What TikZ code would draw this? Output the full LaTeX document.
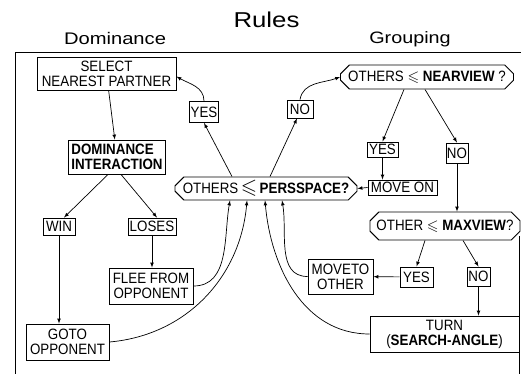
\documentclass[tikz,border=0pt]{standalone}
\usepackage{amssymb}
\usepackage{fontspec}
\newfontfamily\boxfont{Liberation Sans}[FakeStretch=0.89]
\newfontfamily\headfont{Liberation Sans}[FakeStretch=1.2]
\usetikzlibrary{shapes.misc}

\begin{document}
\begin{tikzpicture}[x=1pt,y=-1pt,
    box/.style={draw, line width=0.9pt, inner sep=0pt, align=center,
        font={\boxfont\fontsize{15}{15}\selectfont}},
    query/.style={box, chamfered rectangle, chamfered rectangle xsep=6pt},
    head/.style={anchor=base, font={\headfont\fontsize{16.8}{18}\selectfont}}]
    \useasboundingbox (0,0) rectangle (521,374);

    % titles and frame
    \node (rules) [head, font={\headfont\fontsize{21.5}{22}\selectfont}] at (266.5,28) {Rules};
    \node (domtitle) [head] at (115,45) {Dominance};
    \node (grptitle) [head, font={\headfont\fontsize{16.5}{18}\selectfont}] at (410,44) {Grouping};
    \draw [line width=0.8pt] (15,374) -- (15,52) -- (521,52);
    \draw [line width=0.8pt] (519,236) -- (519,374);

    % dominance side
    \node (select) at (106.5,73.5) [box, minimum width=139pt, minimum height=33pt] {SELECT\\NEAREST PARTNER};
    \node (dominter) at (117,157) [box, minimum width=97pt, minimum height=34pt, align=left] {\textbf{DOMINANCE}\\\textbf{INTERACTION}};
    \node (yesdom) at (204,112) [box, minimum width=29pt, minimum height=21pt] {YES};
    \node (win) at (59,226.5) [box, minimum width=32pt, minimum height=17pt] {WIN};
    \node (loses) at (152,226.5) [box, minimum width=48pt, minimum height=17pt] {LOSES};
    \node (flee) at (151,286) [box, minimum width=84pt, minimum height=36pt] {FLEE FROM\\OPPONENT};
    \node (goto) at (67.5,342) [box, minimum width=83pt, minimum height=36pt] {GOTO\\OPPONENT};

    % central test
    \node (persspace) at (266,188.5) [query, minimum width=182pt, minimum height=23pt]
        {OTHERS\,{\fontsize{21}{21}\selectfont$\leqslant$}\,\textbf{PERSSPACE?}};

    % grouping side
    \node (nodom) at (300,109) [box, minimum width=26pt, minimum height=18pt] {NO};
    \node (nearview) at (427,77) [query, minimum width=173pt, minimum height=24pt] {OTHERS $\leqslant$ \textbf{NEARVIEW} ?};
    \node (yesnear) at (382.5,149.5) [box, minimum width=31pt, minimum height=15pt] {YES};
    \node (nonear) at (457,153) [box, minimum width=20pt, minimum height=20pt, inner xsep=1pt] {NO};
    \node (moveon) at (402.5,187.5) [box, minimum width=69pt, minimum height=15pt] {MOVE ON};
    \node (maxview) at (445,226) [query, minimum width=150pt, minimum height=28pt] {OTHER $\leqslant$ \textbf{MAXVIEW}?};
    \node (yesmax) at (416.5,277) [box, minimum width=33pt, minimum height=20pt] {YES};
    \node (nomax) at (478.5,276.5) [box, minimum width=23pt, minimum height=19pt] {NO};
    \node (moveto) at (340.5,276.5) [box, minimum width=65pt, minimum height=35pt] {MOVETO\\OTHER};
    \node (turn) at (444.5,334) [box, minimum width=149pt, minimum height=36pt] {TURN\\(\textbf{SEARCH-ANGLE})};

    \path [->,>=latex,line width=0.7pt]
        (select) edge (dominter)
        ([xshift=-9pt]dominter.south) edge ([xshift=5pt]win.north)
        ([xshift=4pt]dominter.south) edge ([xshift=5pt]loses.north)
        (win.south) edge (win.south |- goto.north)
        (loses.south) edge (loses.south |- flee.north)
        ([xshift=-34pt]persspace.north) edge (yesdom.south)
        (yesdom.north) edge [out=90,in=-30] ([yshift=-3pt]select.east)
        ([xshift=4pt]persspace.north) edge ([xshift=-3pt]nodom.south)
        (nodom.north) edge [out=80,in=200] (nearview.west)
        ([xshift=-23pt]nearview.south) edge (yesnear.north)
        ([xshift=-2pt]nearview.south) edge (nonear.north)
        (yesnear.south) edge (yesnear.south |- moveon.north)
        (moveon.west) edge (persspace.east)
        (nonear.south) edge (nonear.south |- maxview.north)
        ([xshift=-20pt]maxview.south) edge (yesmax.north)
        ([xshift=18pt]maxview.south) edge (nomax.north)
        (yesmax) edge (moveto)
        (nomax.south) edge (nomax.south |- turn.north)
        (flee.east) edge [out=0,in=-100] ([xshift=-36pt]persspace.south)
        (goto.east) edge [out=5,in=-95] ([xshift=-19pt]persspace.south)
        (moveto.west) edge [out=180,in=-80] ([xshift=16pt]persspace.south)
        (turn.west) edge [out=180,in=-85] ([xshift=-1pt]persspace.south)
    ;
\end{tikzpicture}
\end{document}
